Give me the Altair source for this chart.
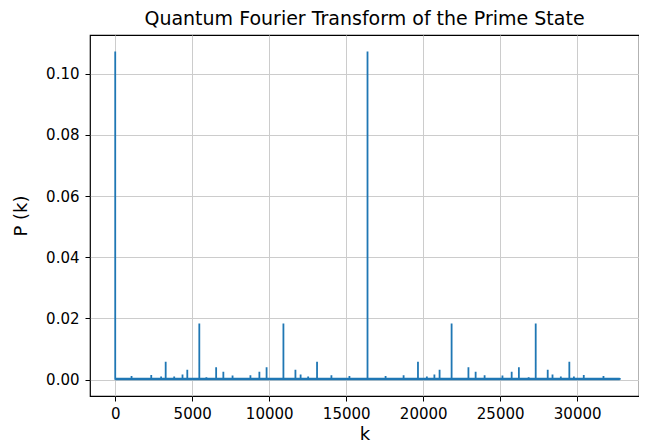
import altair as alt
import pandas as pd

# Spike positions (k) and heights P(k)
peak_k = [0, 1060, 2340, 2980, 3277, 3830, 4370, 4681, 5461, 5920, 6554, 7022,
          7620, 8780, 9362, 9830, 10923, 11703, 12040, 12530, 13107, 14040, 15210,
          16384,
          17558, 18728, 19661, 20238, 20728, 21065, 21845, 22938, 23406, 23988,
          25148, 25746, 26214, 26848, 27307, 28087, 28398, 28938, 29491, 29788,
          30428, 31708]
peak_p = [0.1073, 0.0012, 0.0015, 0.0010, 0.0058, 0.0010, 0.0017, 0.0032, 0.0183,
          0.0008, 0.0040, 0.0026, 0.0013, 0.0014, 0.0026, 0.0040, 0.0183, 0.0032,
          0.0017, 0.0010, 0.0058, 0.0014, 0.0012,
          0.1073,
          0.0012, 0.0014, 0.0058, 0.0010, 0.0017, 0.0032, 0.0183, 0.0040, 0.0026,
          0.0014, 0.0013, 0.0026, 0.0040, 0.0008, 0.0183, 0.0032, 0.0017, 0.0010,
          0.0058, 0.0010, 0.0015, 0.0012]
baseline_p = 0.0002
first_k = 0
last_k = 32767

x_ticks = [0, 5000, 10000, 15000, 20000, 25000, 30000]
y_ticks = [0.0, 0.02, 0.04, 0.06, 0.08, 0.10]

rows = []
for k, p in zip(peak_k, peak_p):
    rows.append({"k": k, "P": baseline_p})
    rows.append({"k": k, "P": p})
    rows.append({"k": k, "P": baseline_p})
rows.append({"k": last_k, "P": baseline_p})
for i, r in enumerate(rows):
    r["i"] = i
df = pd.DataFrame(rows)
base_df = pd.DataFrame({"k": [first_k], "k2": [last_k], "P": [baseline_p]})

FONT = "DejaVu Sans"
BLUE = "#1f77b4"

xscale = alt.Scale(domain=[-1638, 34015], nice=False, zero=False)
yscale = alt.Scale(domain=[-0.00537, 0.11268], nice=False, zero=False)

line = alt.Chart(df).mark_line(
    color=BLUE, strokeWidth=1.8, strokeCap="square", clip=True
).encode(
    x=alt.X("k:Q", scale=xscale,
            axis=alt.Axis(values=x_ticks, title="k", format="d",
                          labelFontSize=15, titleFontSize=18, titlePadding=4,
                          labelPadding=5, tickSize=5, labelFlush=False)),
    y=alt.Y("P:Q", scale=yscale,
            axis=alt.Axis(values=y_ticks, title="P (k)", format=".2f",
                          labelFontSize=15, titleFontSize=18, titlePadding=15,
                          labelPadding=6, tickSize=5, labelFlush=False)),
    order=alt.Order("i:Q"),
)

base = alt.Chart(base_df).mark_rule(color=BLUE, strokeWidth=2.6).encode(
    x=alt.X("k:Q", scale=xscale),
    x2="k2:Q",
    y=alt.Y("P:Q", scale=yscale),
)

chart = alt.layer(base, line).properties(
    width=549,
    height=361,
    title=alt.TitleParams("Quantum Fourier Transform of the Prime State",
                          fontSize=19, font=FONT, fontWeight="normal",
                          color="#000000", offset=6),
    autosize=alt.AutoSizeParams(type="none"),
    padding={"left": 82, "top": 27, "right": 0, "bottom": 50},
).configure_axis(
    labelFont=FONT, titleFont=FONT, labelColor="#000000", titleColor="#000000",
    titleFontWeight="normal", grid=True, gridColor="#cccccc", gridWidth=1,
    domain=False, tickColor="#000000", tickWidth=1,
).configure_view(
    stroke="#000000", strokeWidth=1.2
)

chart.save("out.html", embed_options={"renderer": "svg", "actions": False})
